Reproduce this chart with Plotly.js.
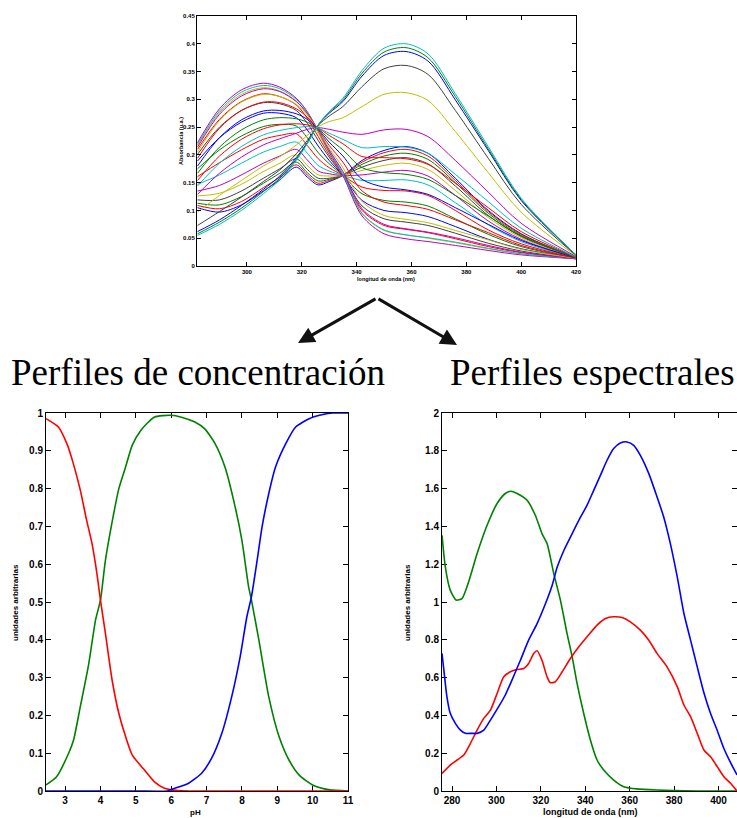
<!DOCTYPE html>
<html>
<head>
<meta charset="utf-8">
<script src="https://cdn.plot.ly/plotly-3.0.1.min.js"></script>
<style>
  html, body { margin: 0; padding: 0; background: #ffffff; }
  #chart { width: 737px; height: 818px; }
</style>
</head>
<body>
<div id="chart"></div>
<script>
// ---------- Absorbance spectra recorded across the pH titration ----------
const wavelength = [282, 290, 298, 306, 312, 318, 322, 326, 330, 335, 342, 350, 358, 366, 376, 388, 400, 420];

const spec01 = [0.105, 0.097, 0.110, 0.135, 0.155, 0.178, 0.160, 0.146, 0.152, 0.163, 0.190, 0.208, 0.215, 0.203, 0.158, 0.100, 0.058, 0.015];
const spec02 = [0.109, 0.103, 0.116, 0.141, 0.160, 0.182, 0.164, 0.149, 0.154, 0.163, 0.187, 0.204, 0.210, 0.198, 0.154, 0.098, 0.057, 0.015];
const spec03 = [0.113, 0.110, 0.125, 0.149, 0.167, 0.187, 0.168, 0.153, 0.156, 0.163, 0.183, 0.198, 0.203, 0.192, 0.150, 0.095, 0.055, 0.015];
const spec04 = [0.119, 0.119, 0.135, 0.158, 0.175, 0.193, 0.174, 0.158, 0.158, 0.163, 0.178, 0.190, 0.195, 0.184, 0.144, 0.091, 0.053, 0.015];
const spec05 = [0.126, 0.131, 0.147, 0.170, 0.185, 0.200, 0.181, 0.164, 0.162, 0.163, 0.172, 0.181, 0.185, 0.174, 0.136, 0.087, 0.051, 0.015];
const spec06 = [0.135, 0.145, 0.164, 0.185, 0.198, 0.210, 0.191, 0.171, 0.166, 0.163, 0.164, 0.169, 0.172, 0.162, 0.127, 0.081, 0.048, 0.014];
const spec07 = [0.147, 0.164, 0.185, 0.205, 0.215, 0.223, 0.203, 0.181, 0.171, 0.163, 0.154, 0.154, 0.155, 0.146, 0.114, 0.074, 0.044, 0.014];
const spec08 = [0.161, 0.186, 0.209, 0.228, 0.235, 0.238, 0.217, 0.193, 0.177, 0.163, 0.142, 0.136, 0.135, 0.127, 0.100, 0.065, 0.040, 0.014];
const spec09 = [0.175, 0.209, 0.234, 0.251, 0.255, 0.252, 0.231, 0.204, 0.184, 0.163, 0.130, 0.118, 0.115, 0.108, 0.085, 0.057, 0.035, 0.014];
const spec10 = [0.189, 0.231, 0.259, 0.275, 0.275, 0.267, 0.245, 0.216, 0.190, 0.163, 0.118, 0.100, 0.096, 0.089, 0.071, 0.048, 0.031, 0.014];
const spec11 = [0.201, 0.250, 0.280, 0.294, 0.292, 0.280, 0.257, 0.226, 0.196, 0.163, 0.108, 0.085, 0.079, 0.073, 0.059, 0.041, 0.027, 0.013];
const spec12 = [0.210, 0.264, 0.296, 0.310, 0.305, 0.290, 0.266, 0.233, 0.200, 0.163, 0.100, 0.073, 0.066, 0.060, 0.049, 0.035, 0.024, 0.013];
const spec13 = [0.217, 0.276, 0.309, 0.321, 0.315, 0.297, 0.273, 0.239, 0.203, 0.163, 0.094, 0.064, 0.056, 0.050, 0.042, 0.031, 0.022, 0.013];
const spec14 = [0.222, 0.283, 0.317, 0.329, 0.322, 0.302, 0.278, 0.243, 0.205, 0.163, 0.090, 0.058, 0.049, 0.044, 0.037, 0.028, 0.020, 0.013];
const spec15 = [0.219, 0.279, 0.313, 0.325, 0.319, 0.300, 0.277, 0.243, 0.207, 0.166, 0.095, 0.065, 0.056, 0.051, 0.043, 0.032, 0.022, 0.013];
const spec16 = [0.214, 0.273, 0.306, 0.319, 0.314, 0.296, 0.275, 0.244, 0.209, 0.170, 0.103, 0.075, 0.067, 0.061, 0.051, 0.037, 0.025, 0.013];
const spec17 = [0.205, 0.262, 0.295, 0.309, 0.305, 0.291, 0.272, 0.244, 0.212, 0.177, 0.116, 0.091, 0.084, 0.078, 0.064, 0.047, 0.030, 0.014];
const spec18 = [0.194, 0.248, 0.280, 0.295, 0.294, 0.283, 0.268, 0.245, 0.217, 0.187, 0.135, 0.115, 0.109, 0.102, 0.083, 0.060, 0.037, 0.014];
const spec19 = [0.180, 0.231, 0.263, 0.279, 0.280, 0.274, 0.264, 0.246, 0.223, 0.198, 0.156, 0.142, 0.137, 0.129, 0.105, 0.075, 0.046, 0.015];
const spec20 = [0.167, 0.214, 0.245, 0.263, 0.267, 0.265, 0.259, 0.247, 0.229, 0.209, 0.177, 0.168, 0.165, 0.156, 0.127, 0.090, 0.054, 0.015];
const spec21 = [0.154, 0.198, 0.228, 0.247, 0.254, 0.256, 0.254, 0.248, 0.235, 0.220, 0.197, 0.195, 0.193, 0.183, 0.149, 0.105, 0.062, 0.016];
const spec22 = [0.144, 0.185, 0.215, 0.236, 0.244, 0.249, 0.251, 0.248, 0.239, 0.228, 0.213, 0.215, 0.214, 0.203, 0.165, 0.116, 0.068, 0.016];
const spec23 = [0.129, 0.167, 0.196, 0.218, 0.229, 0.239, 0.246, 0.249, 0.246, 0.241, 0.237, 0.245, 0.246, 0.233, 0.190, 0.133, 0.077, 0.017];
const spec24 = [0.097, 0.127, 0.154, 0.180, 0.197, 0.218, 0.235, 0.251, 0.260, 0.267, 0.287, 0.309, 0.312, 0.298, 0.242, 0.168, 0.097, 0.018];
const spec25 = [0.073, 0.098, 0.124, 0.152, 0.173, 0.202, 0.226, 0.253, 0.270, 0.287, 0.323, 0.355, 0.361, 0.345, 0.280, 0.194, 0.111, 0.019];
const spec26 = [0.062, 0.083, 0.109, 0.138, 0.162, 0.195, 0.222, 0.254, 0.275, 0.296, 0.342, 0.379, 0.386, 0.369, 0.299, 0.208, 0.118, 0.020];
const spec27 = [0.058, 0.079, 0.104, 0.134, 0.158, 0.192, 0.221, 0.254, 0.277, 0.299, 0.347, 0.385, 0.393, 0.375, 0.305, 0.211, 0.120, 0.020];
const spec28 = [0.055, 0.075, 0.100, 0.130, 0.155, 0.190, 0.220, 0.254, 0.278, 0.302, 0.352, 0.392, 0.400, 0.382, 0.310, 0.215, 0.122, 0.020];

const spectra = [spec01, spec02, spec03, spec04, spec05, spec06, spec07, spec08, spec09, spec10,
                 spec11, spec12, spec13, spec14, spec15, spec16, spec17, spec18, spec19, spec20,
                 spec21, spec22, spec23, spec24, spec25, spec26, spec27, spec28];

const spectraColors = ['#0000ff', '#ff0000', '#008000', '#404040', '#bfbf00', '#bf00bf', '#00bfbf',
                       '#ff0000', '#008000', '#0000ff', '#404040', '#ff0000', '#bfbf00', '#bf00bf',
                       '#00bfbf', '#bf00bf', '#bfbf00', '#ff0000', '#0000ff', '#008000', '#ff0000',
                       '#00bfbf', '#bf00bf', '#bfbf00', '#404040', '#0000ff', '#008000', '#00bfbf'];

const topXTicks = [300, 320, 340, 360, 380, 400, 420];
const topYTicks = [0, 0.05, 0.1, 0.15, 0.2, 0.25, 0.3, 0.35, 0.4, 0.45];
const topYLabels = ['0', '0.05', '0.1', '0.15', '0.2', '0.25', '0.3', '0.35', '0.4', '0.45'];

// ---------- Concentration profiles vs pH ----------
const phRed = [2.46, 2.81, 3.05, 3.19, 3.43, 3.6, 3.76, 3.9, 4.0, 4.14, 4.33, 4.52, 4.71, 4.9, 5.24, 5.52, 5.81, 6.0, 6.5, 7, 8, 9, 10, 11];
const concRed = [0.985, 0.963, 0.919, 0.88, 0.796, 0.72, 0.655, 0.575, 0.505, 0.417, 0.293, 0.205, 0.144, 0.095, 0.056, 0.025, 0.007, 0.003, 0, 0, 0, 0, 0, 0];

const phGreen = [2.46, 2.76, 3.1, 3.24, 3.43, 3.67, 3.86, 4.0, 4.14, 4.33, 4.52, 4.71, 4.9, 5.14, 5.52, 6.0, 6.29, 6.67, 6.95, 7.24, 7.52, 7.81, 8.0, 8.19, 8.27, 8.48, 8.76, 9.05, 9.33, 9.62, 10.0, 10.48, 11];
const concGreen = [0.016, 0.038, 0.1, 0.135, 0.223, 0.337, 0.452, 0.505, 0.61, 0.712, 0.8, 0.857, 0.915, 0.954, 0.989, 0.994, 0.989, 0.976, 0.958, 0.919, 0.857, 0.751, 0.663, 0.54, 0.505, 0.399, 0.249, 0.144, 0.082, 0.042, 0.016, 0.003, 0];

const phBlue = [2.46, 3, 4, 5, 5.9, 6.0, 6.48, 6.86, 7.14, 7.43, 7.71, 7.95, 8.14, 8.27, 8.43, 8.57, 8.76, 8.95, 9.24, 9.52, 9.9, 10.29, 10.57, 11];
const concBlue = [0, 0, 0, 0, 0, 0.004, 0.02, 0.047, 0.086, 0.152, 0.249, 0.355, 0.461, 0.514, 0.61, 0.699, 0.787, 0.857, 0.919, 0.963, 0.985, 0.996, 1.0, 1.0];

const phTicks = [3, 4, 5, 6, 7, 8, 9, 10, 11];
const concTicks = [0, 0.1, 0.2, 0.3, 0.4, 0.5, 0.6, 0.7, 0.8, 0.9, 1];
const concLabels = ['0', '0.1', '0.2', '0.3', '0.4', '0.5', '0.6', '0.7', '0.8', '0.9', '1'];

// ---------- Pure-species spectral profiles ----------
const wlGreen = [275.5, 277, 279.2, 281.9, 284.5, 287.5, 291.3, 295.8, 300.3, 304, 306.3, 309.3, 313.8, 317.5, 320.5, 322.8, 325.8, 328.8, 331.8, 334.1, 336.3, 339.3, 342.3, 345.3, 348.3, 352.8, 357.3, 363.3, 372.3, 379.8, 390, 408.3];
const specGreen = [1.353, 1.186, 1.063, 1.01, 1.018, 1.107, 1.256, 1.406, 1.521, 1.574, 1.586, 1.574, 1.538, 1.459, 1.362, 1.309, 1.151, 1.01, 0.833, 0.71, 0.569, 0.41, 0.27, 0.164, 0.111, 0.058, 0.023, 0.011, 0.005, 0.002, 0, 0];

const wlRed = [275.5, 279.2, 282.3, 285.3, 288.3, 291.3, 294.3, 297.3, 300.3, 303.3, 306.3, 309.3, 312.3, 314.5, 316.8, 318.3, 320.5, 322.8, 324.3, 326.5, 329.6, 333.3, 337.1, 340.8, 345.3, 349.1, 352.8, 356.6, 360.3, 364.8, 368.6, 372.3, 376.8, 381.4, 384.4, 387.4, 390.4, 393.4, 396.4, 399.4, 402.4, 405.4, 408.3];
const specRed = [0.093, 0.137, 0.164, 0.19, 0.252, 0.322, 0.384, 0.428, 0.516, 0.604, 0.631, 0.643, 0.648, 0.675, 0.728, 0.742, 0.692, 0.604, 0.573, 0.578, 0.631, 0.701, 0.763, 0.816, 0.878, 0.913, 0.922, 0.918, 0.895, 0.851, 0.798, 0.728, 0.657, 0.552, 0.455, 0.393, 0.305, 0.217, 0.181, 0.129, 0.076, 0.041, 0];

const wlBlue = [275.5, 276.5, 277.7, 279.2, 281.5, 283.8, 286, 289, 291.3, 294.3, 297.3, 301, 304, 307, 310.8, 314.5, 318.3, 322.1, 325.1, 327.4, 330.4, 334.1, 337.9, 340.8, 343.8, 346.8, 349.8, 352.8, 355.8, 358.8, 361.8, 364.8, 368.6, 372.3, 375.3, 378.3, 381.4, 384.4, 387.4, 390.4, 393.4, 396.4, 399.4, 402.4, 405.4, 408.3];
const specBlue = [0.728, 0.622, 0.499, 0.411, 0.358, 0.322, 0.305, 0.305, 0.305, 0.322, 0.375, 0.446, 0.508, 0.587, 0.692, 0.798, 0.886, 0.992, 1.089, 1.186, 1.274, 1.362, 1.45, 1.512, 1.591, 1.67, 1.75, 1.812, 1.841, 1.847, 1.829, 1.776, 1.679, 1.556, 1.45, 1.309, 1.133, 0.939, 0.798, 0.657, 0.52, 0.41, 0.32, 0.225, 0.15, 0.085];

const wlTicks = [280, 300, 320, 340, 360, 380, 400];
const specTicks = [0, 0.2, 0.4, 0.6, 0.8, 1, 1.2, 1.4, 1.6, 1.8, 2];
const specLabels = ['0', '0.2', '0.4', '0.6', '0.8', '1', '1.2', '1.4', '1.6', '1.8', '2'];

// ---------- page geometry (pixels) ----------
const W = 737, H = 818;
const px = v => v / W;
const py = v => 1 - v / H;

const traces = [];
spectra.forEach((s, i) => {
  traces.push({
    x: wavelength, y: s, xaxis: 'x', yaxis: 'y', type: 'scatter', mode: 'lines',
    line: { color: spectraColors[i], width: 1, shape: 'spline', smoothing: 0.9 },
    hoverinfo: 'skip', showlegend: false
  });
});

const profileLine = (x, y, color, xa, ya) => ({
  x, y, xaxis: xa, yaxis: ya, type: 'scatter', mode: 'lines',
  line: { color, width: 1.6, shape: 'spline', smoothing: 0.6 },
  hoverinfo: 'skip', showlegend: false
});

traces.push(profileLine(phGreen, concGreen, '#008000', 'x2', 'y2'));
traces.push(profileLine(phRed, concRed, '#ff0000', 'x2', 'y2'));
traces.push(profileLine(phBlue, concBlue, '#0000ff', 'x2', 'y2'));

traces.push(profileLine(wlGreen, specGreen, '#008000', 'x3', 'y3'));
traces.push(profileLine(wlRed, specRed, '#ff0000', 'x3', 'y3'));
traces.push(profileLine(wlBlue, specBlue, '#0000ff', 'x3', 'y3'));

const tickFont = size => ({ family: 'Liberation Sans, Arial, sans-serif', size, color: '#000', weight: 'bold' });

const frame = (extra) => Object.assign({
  showline: true, linecolor: '#000', linewidth: 1, mirror: 'allticks',
  ticks: 'inside', tickcolor: '#000', tickwidth: 1,
  showgrid: false, zeroline: false, fixedrange: true,
  tickmode: 'array'
}, extra);

const layout = {
  width: W, height: H,
  margin: { l: 0, r: 0, t: 0, b: 0, pad: 0 },
  paper_bgcolor: '#ffffff', plot_bgcolor: '#ffffff',
  showlegend: false,
  xaxis: frame({ domain: [px(197), px(576)], anchor: 'y', range: [281.8, 420],
                 tickvals: topXTicks, ticktext: topXTicks.map(String),
                 ticklen: 4, tickfont: tickFont(6) }),
  yaxis: frame({ domain: [py(266), py(16)], anchor: 'x', range: [0, 0.45],
                 tickvals: topYTicks, ticktext: topYLabels,
                 ticklen: 4, tickfont: tickFont(6) }),
  xaxis2: frame({ domain: [px(46), px(348)], anchor: 'y2', range: [2.46, 11],
                  tickvals: phTicks, ticktext: phTicks.map(String),
                  ticklen: 5, tickfont: tickFont(10), layer: 'below traces' }),
  yaxis2: frame({ domain: [py(791), py(413)], anchor: 'x2', range: [0, 1],
                  tickvals: concTicks, ticktext: concLabels,
                  ticklen: 5, tickfont: tickFont(10), layer: 'below traces' }),
  xaxis3: frame({ domain: [px(442), 1], anchor: 'y3', range: [275.5, 408.3],
                  tickvals: wlTicks, ticktext: wlTicks.map(String),
                  ticklen: 5, tickfont: tickFont(10), layer: 'below traces' }),
  yaxis3: frame({ domain: [py(791), py(413)], anchor: 'x3', range: [0, 2],
                  tickvals: specTicks, ticktext: specLabels,
                  ticklen: 5, tickfont: tickFont(10), layer: 'below traces' }),
  annotations: []
};

const label = (text, x, y, size, angle) => ({
  text, x: px(x), y: py(y), xref: 'paper', yref: 'paper',
  xanchor: 'center', yanchor: 'middle', showarrow: false,
  textangle: angle || 0, font: tickFont(size)
});

layout.annotations.push(
  label('Absorbancia (u.a.)', 181, 141, 5.5, -90),
  label('longitud de onda (nm)', 386, 279, 5.5),
  label('unidades arbitrarias', 15, 603, 8, -90),
  label('pH', 195, 812, 8),
  label('unidades arbitrarias', 407, 603, 8, -90),
  label('longitud de onda (nm)', 590, 812, 9)
);

// section headings under the arrows
const heading = (text, x) => ({
  text, x: px(x), y: py(372), xref: 'paper', yref: 'paper',
  xanchor: 'center', yanchor: 'middle', showarrow: false,
  font: { family: 'Liberation Serif, Times New Roman, serif', size: 37, color: '#000' }
});
layout.annotations.push(heading('Perfiles de concentración', 198), heading('Perfiles espectrales', 592));

// the two arrows splitting the data matrix into its profiles
const arrow = (tipX, tipY) => ({
  text: '', x: px(tipX), y: py(tipY), xref: 'paper', yref: 'paper',
  showarrow: true, arrowhead: 2, arrowsize: 1.1, arrowwidth: 3, arrowcolor: '#111',
  ax: 377 - tipX, ay: 298 - tipY
});
layout.annotations.push(arrow(298, 343), arrow(457, 345));

Plotly.newPlot('chart', traces, layout, { staticPlot: true, displayModeBar: false });
</script>
</body>
</html>
